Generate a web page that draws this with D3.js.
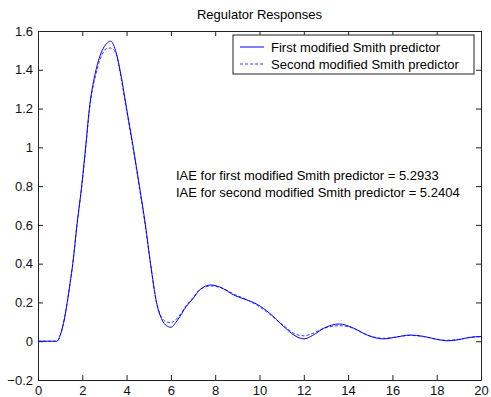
<!DOCTYPE html>
<html>
<head>
<meta charset="utf-8">
<script src="https://cdnjs.cloudflare.com/ajax/libs/d3/7.8.5/d3.min.js"></script>
<style>
	body { margin: 0; background: #fff; }
	svg { display: block; font-family: 'Liberation Sans', Arial, sans-serif; }
</style>
</head>
<body>
<div class="chart"></div>
<script>
// time axis (seconds) shared by both responses
var times = [0, 0.85, 1.0, 1.2, 1.32, 1.45, 1.57, 1.76, 1.97, 2.15, 2.32, 2.62, 2.9, 3.1, 3.27, 3.5, 3.7, 4.0, 4.3, 4.58, 4.85, 5.08, 5.35, 5.6, 5.8, 6.0, 6.3, 6.7, 7.0, 7.3, 7.8, 8.2, 8.9, 9.5, 9.9, 10.45, 11.1, 11.65, 12.0, 12.4, 12.9, 13.6, 14.2, 14.8, 15.15, 15.6, 16.2, 16.8, 17.4, 18.0, 18.5, 19.0, 19.5, 20];

var firstSmith = [0, 0, 0.03, 0.12, 0.2, 0.3, 0.4, 0.6, 0.8, 1.0, 1.2, 1.4, 1.5, 1.535, 1.548, 1.5, 1.4, 1.2, 1.0, 0.8, 0.6, 0.4, 0.2, 0.11, 0.08, 0.072, 0.11, 0.18, 0.22, 0.265, 0.29, 0.28, 0.235, 0.21, 0.19, 0.145, 0.075, 0.025, 0.012, 0.03, 0.067, 0.089, 0.07, 0.035, 0.02, 0.012, 0.022, 0.032, 0.025, 0.01, 0.002, 0.008, 0.02, 0.024];

var secondSmith = [0, 0, 0.03, 0.12, 0.2, 0.3, 0.4, 0.6, 0.79, 0.99, 1.19, 1.38, 1.48, 1.51, 1.512, 1.49, 1.39, 1.19, 0.99, 0.79, 0.59, 0.4, 0.2, 0.12, 0.1, 0.096, 0.12, 0.185, 0.225, 0.265, 0.285, 0.278, 0.24, 0.21, 0.185, 0.14, 0.08, 0.035, 0.028, 0.04, 0.066, 0.08, 0.068, 0.035, 0.022, 0.015, 0.022, 0.03, 0.024, 0.01, 0.005, 0.01, 0.02, 0.024];

var xTicks = [0, 2, 4, 6, 8, 10, 12, 14, 16, 18, 20];
var yTicks = [-0.2, 0, 0.2, 0.4, 0.6, 0.8, 1, 1.2, 1.4, 1.6];

var seriesNames = ['First modified Smith predictor', 'Second modified Smith predictor'];
var iaeLines = [
	'IAE for first modified Smith predictor = 5.2933',
	'IAE for second modified Smith predictor = 5.2404'
];

(function() {
	'use strict';

	var width = 491,
		height = 397;
	var margin = { top: 31, right: 10, bottom: 17, left: 38 };
	var fontSize = '13px';

	var svg = d3.select('.chart').append('svg')
		.attr('width', width)
		.attr('height', height);

	var x = d3.scaleLinear().domain([0, 20]).range([margin.left, width - margin.right]);
	var y = d3.scaleLinear().domain([-0.2, 1.6]).range([height - margin.bottom, margin.top]);

	// title
	svg.append('text')
		.attr('x', (x.range()[0] + x.range()[1]) / 2)
		.attr('y', 19)
		.attr('text-anchor', 'middle')
		.style('font-size', fontSize)
		.text('Regulator Responses');

	// axes, matlab style: ticks inside, box all round
	var tickLen = 5;
	var axisColor = '#222';

	svg.append('g')
		.attr('transform', 'translate(0,' + y(-0.2) + ')')
		.call(d3.axisBottom(x).tickValues(xTicks).tickSizeInner(-tickLen).tickSizeOuter(0).tickPadding(6).tickFormat(d3.format('d')));

	svg.append('g')
		.attr('transform', 'translate(' + x(0) + ',0)')
		.call(d3.axisLeft(y).tickValues(yTicks).tickSizeInner(-tickLen).tickSizeOuter(0).tickPadding(5).tickFormat(function(d) { return d3.format('')(+d.toFixed(1)); }));

	svg.append('g')
		.attr('transform', 'translate(0,' + y(1.6) + ')')
		.call(d3.axisTop(x).tickValues(xTicks).tickSizeInner(-tickLen).tickSizeOuter(0).tickFormat(''));

	svg.append('g')
		.attr('transform', 'translate(' + x(20) + ',0)')
		.call(d3.axisRight(y).tickValues(yTicks).tickSizeInner(-tickLen).tickSizeOuter(0).tickFormat(''));

	svg.selectAll('.domain, .tick line').attr('stroke', axisColor);
	svg.selectAll('.tick text')
		.attr('fill', '#111')
		.style('font-size', fontSize)
		.style('font-family', "'Liberation Sans', Arial, sans-serif");

	// curves
	var line = d3.line()
		.x(function(d) { return x(d[0]); })
		.y(function(d) { return y(d[1]); })
		.curve(d3.curveMonotoneX);

	var plot = svg.append('g');

	plot.append('path')
		.datum(times.map(function(t, i) { return [t, secondSmith[i]]; }))
		.attr('d', line)
		.attr('fill', 'none')
		.attr('stroke', '#3a3aff')
		.attr('stroke-width', 1)
		.attr('stroke-dasharray', '3,2');

	plot.append('path')
		.datum(times.map(function(t, i) { return [t, firstSmith[i]]; }))
		.attr('d', line)
		.attr('fill', 'none')
		.attr('stroke', '#0000ff')
		.attr('stroke-width', 1);

	// IAE annotation
	var note = svg.append('g').style('font-size', fontSize);
	note.selectAll('text').data(iaeLines).enter().append('text')
		.attr('x', 176)
		.attr('y', function(d, i) { return 179.5 + i * 17; })
		.text(function(d) { return d; });

	// legend
	var legend = svg.append('g').attr('transform', 'translate(233,35)');
	legend.append('rect')
		.attr('width', 241)
		.attr('height', 39)
		.attr('fill', '#fff')
		.attr('stroke', axisColor);

	var items = legend.selectAll('g.item').data(seriesNames).enter().append('g')
		.attr('class', 'item')
		.attr('transform', function(d, i) { return 'translate(0,' + (12 + i * 17) + ')'; });

	items.append('line')
		.attr('x1', 7)
		.attr('x2', 31)
		.attr('stroke', function(d, i) { return i ? '#3a3aff' : '#0000ff'; })
		.attr('stroke-dasharray', function(d, i) { return i ? '3,2' : null; });

	items.append('text')
		.attr('x', 38)
		.attr('y', 4.5)
		.style('font-size', fontSize)
		.text(function(d) { return d; });
})();
</script>
</body>
</html>
